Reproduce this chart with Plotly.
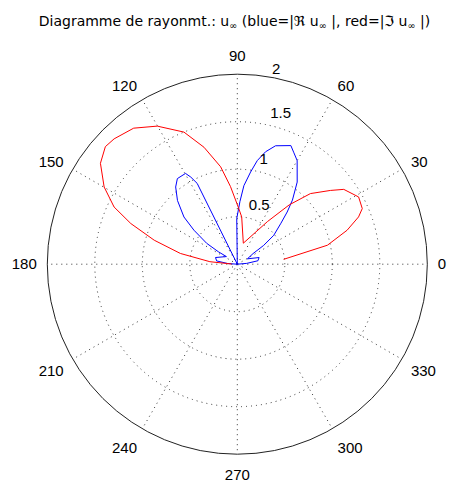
import plotly.graph_objects as go

# ---- data ----
title_text = ("Diagramme de rayonmt.: u<sub>\u221e</sub> (blue=|\u211c u<sub>\u221e</sub> |, "
              "red=|\u2111 u<sub>\u221e</sub> |)")

angle_ticks = [0, 30, 60, 90, 120, 150, 180, 210, 240, 270, 300, 330]
angle_labels = [str(a) for a in angle_ticks]
radial_ticks = [0.5, 1, 1.5, 2]
radial_labels = ["0.5", "1", "1.5", "2"]

red_theta = [6, 11.9, 17.2, 21.3, 24, 29, 35.1, 38.4, 44, 48.8, 54.7, 74, 84.7, 89,
             95, 99.7, 105.9, 112, 120.1, 127.3, 134.5, 138.3, 143.6, 149.9, 155.1,
             159.1, 163.9, 169.3, 174.8, 178]
red_r = [0.49, 0.97, 1.21, 1.37, 1.44, 1.46, 1.37, 1.25, 1.07, 0.83, 0.55, 0.23, 0.50, 0.60,
         0.82, 1.04, 1.28, 1.50, 1.68, 1.80, 1.85, 1.86, 1.79, 1.62, 1.43,
         1.20, 0.91, 0.61, 0.29, 0.06]

blue_theta = [0, 5, 9.5, 17, 28, 34, 35.5, 38.4, 43.2, 46.3, 49.3, 53.9, 60, 63.3, 65.7,
              72.1, 75.9, 79.1, 81.8, 85.2, 87.6, 90.7, 100, 116.4, 118.1, 119.7, 125,
              128.6, 133.2, 138.5, 141.9, 145.7, 146.7, 145, 163, 171, 176, 180]
blue_r = [0, 0.10, 0.22, 0.24, 0.12, 0.20, 0.34, 0.49, 0.63, 0.76, 0.89, 1.07, 1.26, 1.32, 1.37,
          1.31, 1.22, 1.11, 0.98, 0.83, 0.66, 0.48, 0.0, 0.95, 1.04, 1.10, 1.10,
          1.04, 0.92, 0.75, 0.58, 0.39, 0.24, 0.14, 0.24, 0.22, 0.10, 0.0]

# ---- style ----
R_MAX = 2
label_angles = [77, 77, 77, 79.5]
label_pad = 0.04
FONT = "Liberation Sans, Arial, Helvetica, sans-serif"
TFONT = "DejaVu Sans, Liberation Sans, sans-serif"

label_r = [min(t + label_pad, R_MAX) for t in radial_ticks]

fig = go.Figure()
fig.add_trace(go.Scatterpolar(r=blue_r, theta=blue_theta, mode="lines",
                              line=dict(color="#0000FF", width=1), hoverinfo="skip"))
fig.add_trace(go.Scatterpolar(r=red_r, theta=red_theta, mode="lines",
                              line=dict(color="#FF0000", width=1), hoverinfo="skip"))
fig.add_trace(go.Scatterpolar(r=label_r, theta=label_angles,
                              mode="text", text=radial_labels, textposition="top right",
                              textfont=dict(family=FONT, size=15, color="black"),
                              cliponaxis=False, hoverinfo="skip"))

W, H = 451, 485
cx, cy, R = 237.3, 264.2, 190
fig.update_layout(
    width=W, height=H, autosize=False,
    margin=dict(l=0, r=0, t=0, b=0),
    paper_bgcolor="white", plot_bgcolor="white",
    showlegend=False,
    font=dict(family=FONT, size=15, color="black"),
    title=dict(text=title_text, x=0.52, xanchor="center", y=1 - 21 / H, yanchor="middle",
               font=dict(family=TFONT, size=14, color="black")),
    polar=dict(
        domain=dict(x=[(cx - R) / W, (cx + R) / W], y=[(H - cy - R) / H, (H - cy + R) / H]),
        bgcolor="white",
        radialaxis=dict(range=[0, R_MAX], tickvals=radial_ticks, showticklabels=False, ticks="",
                        showline=False, gridcolor="#333", griddash="1px,4px", gridwidth=1),
        angularaxis=dict(direction="counterclockwise", rotation=0, tickmode="array",
                         tickvals=angle_ticks, ticktext=angle_labels,
                         ticks="outside", ticklen=7, tickcolor="rgba(0,0,0,0)",
                         showline=True, linecolor="#222", linewidth=1,
                         gridcolor="#333", griddash="1px,4px", gridwidth=1,
                         tickfont=dict(family=FONT, size=15, color="black")),
    ),
)

fig.write_html("out.html", config={"displayModeBar": False},
               post_script="document.body.style.margin='0';")
